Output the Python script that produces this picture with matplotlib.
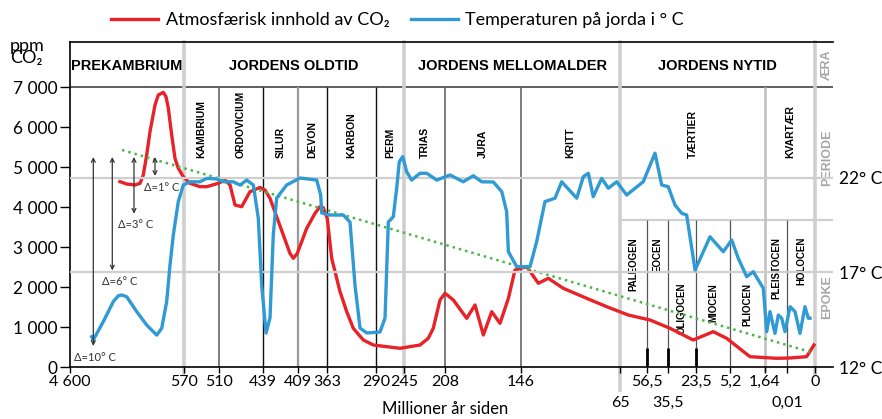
import numpy as np
import matplotlib
matplotlib.use("Agg")
import matplotlib.pyplot as plt
import matplotlib.transforms as mtransforms

plt.rcParams['font.family'] = ['Lato', 'DejaVu Sans']
NARROW = ['Liberation Sans Narrow', 'Liberation Sans', 'DejaVu Sans']

# ------------------------------------------------------------------ #
# data (alder i millioner aar, CO2 i ppm, temperatur i grader C)
# ------------------------------------------------------------------ #
temp_age = [3833, 3776, 3423, 3069, 2893, 2772, 2596, 2242, 1889, 1535, 1358, 1182, 1065,
            948, 772, 595, 559.7, 542.6, 531.1, 514,
            503.1, 486.9, 476.1, 465.3, 454.6, 446.6, 441.1, 436.4, 433, 430.2, 427.3,
            418.7, 405.8, 379.3, 373, 371.4, 358.5, 338.7, 328.7, 321.3, 313.8, 303.8,
            283.6, 275.5, 270.2, 262.2, 256.7, 252.6, 247.1, 242.6, 238.1, 230.6, 224.5,
            215.5, 203.9, 193.1, 184.9, 178.1, 168.6, 161.7, 157.7, 156.3, 149.5, 138.6,
            133.2, 126.4, 122.3, 118.2, 112.7, 100.4, 95.0, 90.9, 86.9, 80.0, 74.6, 67.7,
            62.9, 57.7, 48.5, 41.8, 35.4, 32.5, 29.6, 27.5, 23.9, 15.97, 8.81, 5.03, 4.36,
            3.50, 2.83, 1.81, 1.514, 1.27, 0.90, 0.654, 0.403, 0.158, 0.0089, 0.00714,
            0.00536, 0.00357, 0.00239, 0.00179]
temp_val = [13.60, 13.43, 14.40, 15.46, 15.77, 15.81, 15.72, 14.93, 14.22, 13.69, 14.05,
            15.46, 17.40, 18.98, 20.75, 21.63, 21.80, 21.80, 21.98, 21.95,
            21.80, 21.80, 21.63, 21.89, 21.63, 19.88, 16.34, 13.80, 14.59, 18.98, 20.94,
            21.63, 22.0, 21.89, 21.10, 20.15, 20.04, 20.04, 19.67, 16.34, 14.06, 13.80,
            13.85, 14.59, 19.67, 19.95, 21.47, 22.86, 23.13, 22.33, 21.89, 22.25, 22.25,
            21.89, 22.16, 21.80, 22.12, 21.80, 21.79, 21.28, 20.22, 18.10, 17.31, 17.31,
            18.63, 20.75, 20.84, 20.93, 21.80, 20.93, 22.07, 22.25, 21.01, 21.98, 21.46, 21.80,
            21.10, 21.80, 23.31, 21.63, 21.54, 20.57, 20.13, 20.04, 17.13, 18.89, 18.10, 18.72,
            17.75, 16.78, 17.04, 16.16, 13.87, 14.93, 13.78, 14.75, 14.58, 13.87, 15.19, 14.93,
            13.78, 15.19, 14.58, 14.58]

co2_age = [2833, 2596, 2302, 2125, 2009, 1889, 1772, 1595, 1479, 1302, 1206, 1125, 1005,
           888, 772, 595, 559.7, 542.6, 531, 511.2, 500.3, 492.2, 484.2, 473.4, 460, 443.8,
           437.3, 433, 427.3, 421.6, 415.9, 413, 409.6, 395.2, 382, 374.1, 368.9, 362.6,
           356, 343.6, 333.6, 323.8, 308.9, 294, 251.4, 230.6, 223.1, 218.6, 212.5, 208,
           201.2, 190.3, 183.5, 176.7, 169.9, 163.1, 156.3, 150.9, 141.3, 131.8, 123.7,
           111.4, 92.3, 75.9, 62.4, 53.5, 34.6, 24.7, 14.2, 7.0, 3.17, 0.773, 0.0089,
           0.003, 0.00036]
co2_ppm = [4633, 4575, 4550, 4592, 4800, 5300, 5883, 6550, 6800, 6867, 6758, 6475, 5800,
           5217, 4967, 4758, 4592, 4508, 4508, 4592, 4675, 4550, 4050, 4008, 4383, 4488,
           4425, 4217, 3758, 3300, 2842, 2717, 2842, 3467, 3842, 4008, 3983, 3717,
           2717, 1883, 1383, 967, 675, 550, 467, 550, 717, 967, 1675, 1842,
           1675, 1217, 1550, 800, 1383, 1092, 1717, 2425, 2508, 2092, 2217,
           1967, 1717, 1508, 1300, 1175, 967, 675, 883, 717, 258, 217, 225,
           258, 550]

trend_age = [2762, 0.0018]
trend_ppm = [5425, 380]

# temperaturforskjeller (piler)
delta_age = [3776, 3105, 2338, 1595]
delta_top = 23.11
delta_deg = [10, 6, 3, 1]

ticks_age = [4600, 570, 510, 439, 409, 363, 290, 245, 208, 146, 56.5, 23.5, 5.2, 1.64, 0]
ticks_lbl = ['4 600', '570', '510', '439', '409', '363', '290', '245', '208', '146',
             '56,5', '23,5', '5,2', '1,64', '0']
ticks2_age = [65, 35.5, 0.01]
ticks2_lbl = ['65', '35,5', '0,01']

eras = [('PREKAMBRIUM', 4600, 570), ('JORDENS OLDTID', 570, 245),
        ('JORDENS MELLOMALDER', 245, 65), ('JORDENS NYTID', 65, 0)]
periods = [('KAMBRIUM', 570, 510), ('ORDOVICIUM', 510, 439), ('SILUR', 439, 409),
           ('DEVON', 409, 363), ('KARBON', 363, 290), ('PERM', 290, 245),
           ('TRIAS', 245, 208), ('JURA', 208, 146), ('KRITT', 146, 65),
           ('TÆRTIER', 65, 1.64), ('KVARTÆR', 1.64, 0)]
epochs = [('PALEOGEN', 65, 56.5, 'hi'), ('EOCEN', 56.5, 35.5, 'hi'),
          ('OLIGOCEN', 35.5, 23.5, 'lo'), ('MIOCEN', 23.5, 5.2, 'lo'),
          ('PLIOCEN', 5.2, 1.64, 'lo'), ('PLEISTOCEN', 1.64, 0.01, 'hi'),
          ('HOLOCEN', 0.01, 0, 'hi')]

# ------------------------------------------------------------------ #
# stykkevis tidsakse (som i originalen)
# ------------------------------------------------------------------ #
SC_AGE = np.array([-1, 0, 0.01, 1.64, 5.2, 23.5, 35.5, 56.5, 65, 146, 208, 245, 290,
                   363, 409, 439, 510, 570, 4600])
SC_POS = np.array([833, 815, 787, 765, 730, 696, 668, 647, 620, 521, 445, 404, 376,
                   327, 298, 263, 219, 184, 70], dtype=float)


def fwd(a):
    return -np.interp(np.asarray(a, dtype=float), SC_AGE, SC_POS)


def inv(t):
    return np.interp(-np.asarray(t, dtype=float), SC_POS[::-1], SC_AGE[::-1])


def mid(a, b):
    return float(inv((fwd(a) + fwd(b)) / 2))


W, H = 882, 419
fig = plt.figure(figsize=(W / 100, H / 100), dpi=100)
ax = fig.add_axes([70 / W, 1 - 367 / H, (833 - 70) / W, (367 - 42) / H])
ax.set_xscale('function', functions=(fwd, inv))
ax.set_xlim(4600, -1)
ax.set_ylim(0, 8125)
ax2 = ax.twinx()
ax2.set_ylim(12, 12 + 325 / 18.9)

RED = '#e82229'
BLUE = '#2f9ad3'
LGRAY = '#cfcfcf'

# rutenett / inndeling
ax.axhline(7000, color='#444444', lw=1.2, zorder=1)
ax2.axhline(22, color=LGRAY, lw=1.6, zorder=1)
ax2.axhline(17, color=LGRAY, lw=1.6, zorder=1)
ax.plot([65, -1], [3675, 3675], color=LGRAY, lw=1.6, zorder=1)
for a in [570, 245, 0]:
    ax.axvline(a, ymin=-0.02, ymax=1, color=LGRAY, lw=2.6, zorder=1, clip_on=False)
ax.axvline(65, ymin=-0.072, ymax=1, color=LGRAY, lw=2.6, zorder=1, clip_on=False)
ax.vlines(1.64, -120, 7000, color='#c4c4c4', lw=2, zorder=1, clip_on=False)
ax.vlines([439, 363, 290], 0, 7000, color='#111111', lw=1.0, zorder=1)
ax.vlines([510, 208, 146], 0, 7000, color='#666666', lw=1.2, zorder=1)
ax.vlines([409], 0, 7000, color='#9a9a9a', lw=1.6, zorder=1)
ax.vlines([56.5, 35.5, 23.5, 5.2, 0.01], 0, 3675, color='#555555', lw=0.9, zorder=1)
ax.vlines([56.5, 35.5, 23.5], 0, 480, color='black', lw=2.0, zorder=2)

# kurver
ax.plot(co2_age, co2_ppm, color=RED, lw=2.4, zorder=4, solid_joinstyle='round',
        label='Atmosfærisk innhold av CO₂')
ax2.plot(temp_age, temp_val, color=BLUE, lw=2.4, zorder=3, solid_joinstyle='round',
         label='Temperaturen på jorda i ° C')
ax.plot(trend_age, trend_ppm, color='#4cb748', lw=1.8, ls=(0, (1, 1.6)), zorder=5)

for a, d in zip(delta_age, delta_deg):
    ax2.annotate('', xy=(a, delta_top - d), xytext=(a, delta_top),
                 arrowprops=dict(arrowstyle='<->', lw=0.9, color='#333333',
                                 shrinkA=0, shrinkB=0, mutation_scale=7))
    dx = 5 if d in (6, 1) else 1
    ax2.annotate(f'Δ={d}° C', xy=(a, delta_top - d), xytext=(dx, -8),
                 textcoords='offset points', ha='center', va='center',
                 fontsize=8, color='#333333')

# akser
ax.set_xticks(ticks_age)
ax.set_xticklabels(ticks_lbl)
ax.set_xticks(ticks2_age, minor=True)
ax.set_xticklabels(ticks2_lbl, minor=True)
ax.tick_params(axis='x', which='major', length=4, width=1, labelsize=11.5, pad=2)
ax.tick_params(axis='x', which='minor', length=4, width=1, labelsize=11.5, pad=17)
ax.set_yticks(range(0, 7001, 1000))
ax.set_yticklabels([f'{v:,}'.replace(',', ' ') for v in range(0, 7001, 1000)])
ax.tick_params(axis='y', length=7, width=1, labelsize=12.5, pad=2)
ax.spines['right'].set_visible(False)
ax.spines['top'].set_linewidth(1.2)
ax.spines['left'].set_linewidth(1.2)
ax.spines['bottom'].set_linewidth(1.2)
for s in ax2.spines.values():
    s.set_visible(False)
ax2.set_yticks([12, 17, 22])
ax2.set_yticklabels(['12° C', '17° C', '22° C'])
ax2.tick_params(axis='y', length=0, labelsize=12.5, pad=4)
ax.set_xlabel('Millioner år siden', fontsize=12)
ax.xaxis.set_label_coords(0.491, -0.105)

fig.text(10 / W, 1 - 52 / H, 'ppm\nCO₂', fontsize=13, va='center', ha='left',
         linespacing=0.75)

# tekst i tabellhodet
for name, a, b in eras:
    ax.text(mid(a, b), 7525, name, ha='center', va='center', fontsize=10.5,
            fontweight='bold', family=NARROW)
for name, a, b in periods:
    ax.text(mid(a, b), 5225, name, ha='center', va='bottom', rotation=90,
            fontsize=7.5, fontweight='bold', family=NARROW)
for name, a, b, lev in epochs:
    ax.text(mid(a, b), 3250 if lev == 'hi' else 2100, name, ha='center', va='top',
            rotation=90, fontsize=7, fontweight='bold', family=NARROW)

trans = mtransforms.blended_transform_factory(ax.transAxes, ax.transData)
for name, y in [('ÆRA', 7525), ('PERIODE', 5225), ('EPOKE', 1750)]:
    ax.text(0.9925, y, name, transform=trans, ha='center', va='center', rotation=90,
            fontsize=9, fontweight='bold', color='#a5a5a5', family=NARROW)

h1, l1 = ax.get_legend_handles_labels()
h2, l2 = ax2.get_legend_handles_labels()
fig.legend(h1[:1] + h2, l1[:1] + l2, loc='upper center', bbox_to_anchor=(0.4507, 1.01),
           ncol=2, frameon=False, fontsize=13, handlelength=2.6, handletextpad=0.4,
           columnspacing=1.2)

fig.savefig('out.png', dpi=100)
